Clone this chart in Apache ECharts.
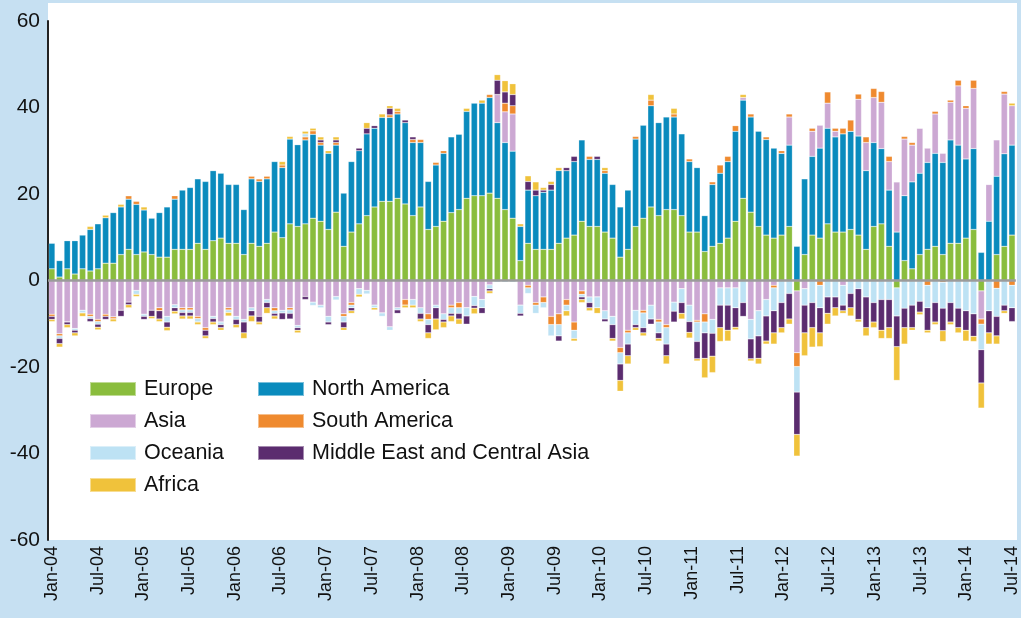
<!DOCTYPE html>
<html>
<head>
<meta charset="utf-8">
<script src="https://cdn.jsdelivr.net/npm/echarts@6/dist/echarts.min.js"></script>
<style>
  html, body { margin: 0; padding: 0; background: #c6e0f2; }
  #main { width: 1021px; height: 618px; }
</style>
</head>
<body>
<div id="main"></div>
<script>
// month names for the axis, Jan-04 .. Jul-14
var monthNames = ['Jan','Feb','Mar','Apr','May','Jun','Jul','Aug','Sep','Oct','Nov','Dec']
var axisMonths = []
for (var y = 4; y <= 14; y++) {
  for (var m = 0; m < 12; m++) {
    if (y == 14 && m > 6) break
    axisMonths.push(monthNames[m] + '-' + (y < 10 ? '0' + y : y))
  }
}
var dataMonths = axisMonths.slice(0, 126)

var europe = [2.7,0.8,2.7,1.5,2.7,2.2,2.7,4.0,4.0,6.0,
  7.2,6.0,6.6,6.0,5.4,5.4,7.2,7.2,7.2,8.6,
  7.2,9.2,9.8,8.6,8.6,6.0,8.6,7.9,8.6,11.2,
  9.9,13.1,12.5,13.1,14.4,13.7,11.8,15.8,7.9,11.2,
  13.1,15.0,17.0,18.3,18.3,19.0,17.7,15.0,17.0,11.8,
  12.5,13.7,15.7,16.4,19.0,19.6,19.6,20.2,19.0,16.4,
  14.4,4.6,8.6,7.2,7.2,7.2,8.6,9.8,10.5,13.7,
  12.5,12.5,11.2,9.8,5.4,7.2,12.5,14.4,17.0,15.0,
  16.4,16.4,15.0,11.2,11.2,6.7,7.9,8.6,9.8,13.7,
  19.0,15.8,12.5,10.5,9.8,10.5,12.5,-2.4,6.0,10.5,
  9.8,13.1,11.2,11.2,11.8,10.5,7.2,12.5,13.1,7.9,
  -1.7,4.6,2.7,6.0,7.2,7.9,6.0,8.6,8.6,9.8,
  11.8,-2.4,0,6.0,7.9,10.5]

var northAmerica = [5.9,3.8,6.5,7.7,7.8,9.6,10.4,10.5,11.7,11.0,
  11.6,11.6,9.7,8.4,10.3,11.6,11.6,13.7,14.3,14.9,
  15.7,16.2,15.0,13.6,13.6,10.4,14.9,15.0,14.9,16.3,
  16.2,19.6,18.9,19.4,19.4,17.6,17.6,15.5,12.3,16.3,
  16.9,18.9,18.2,19.4,19.4,19.5,18.8,16.9,14.9,11.1,
  14.2,15.7,17.5,17.4,20.1,21.4,21.4,22.1,17.5,15.5,
  15.5,7.9,12.3,12.4,13.2,13.7,16.8,15.6,17.0,18.8,
  15.5,15.5,13.6,12.4,11.6,13.7,20.2,21.5,23.4,21.5,
  21.4,21.4,18.9,16.3,14.9,8.3,14.3,16.2,17.7,20.8,
  22.7,22.0,22.0,22.1,20.8,18.9,18.8,7.9,17.5,18.2,
  20.8,22.1,22.0,22.7,22.7,22.9,18.2,19.4,17.4,13.0,
  11.2,15.0,20.1,18.8,20.1,21.5,21.3,23.9,22.7,18.3,
  18.7,6.5,13.7,18.1,21.4,20.8]

var asia = [-7.8,-12.3,-9.6,-11.1,-6.9,-7.8,-9.0,-7.8,-8.4,-6.9,
  -5.0,-2.3,-7.8,-6.9,-6.3,-8.3,-5.6,-6.3,-6.3,-8.3,
  -10.9,-8.3,-9.6,-6.3,-8.3,-9.0,-6.3,-8.3,-4.4,-6.3,
  -6.9,-6.3,-10.4,-3.7,-5.0,-5.7,-8.3,-3.7,-7.7,-5.1,
  -1.9,-2.3,-5.7,-7.5,-10.7,-6.3,-4.4,-4.4,-6.3,-7.7,
  -5.7,-7.7,-5.7,-5.1,-6.3,-3.7,-4.4,-1.0,6.5,7.1,
  8.6,-5.7,-1.1,-5.1,-3.8,-8.3,-7.7,-4.4,-9.6,-2.4,
  -3.8,-3.8,-7.0,-8.3,-15.5,-11.5,-6.9,-6.9,-5.7,-9.0,
  -10.2,-5.0,-1.9,-5.7,-9.2,-7.7,-9.0,-1.7,-1.7,-1.7,
  0.6,-9.0,-7.0,-4.4,-1.1,0,6.5,-14.3,-1.9,5.8,
  5.3,5.8,1.3,-1.1,0,8.5,6.5,10.4,10.7,6.6,
  11.6,13.1,8.5,10.4,3.3,9.1,2.1,8.7,13.7,11.7,
  13.9,-6.5,8.5,8.4,13.8,9.1]

var southAmerica = [-0.5,-0.5,0,0,0,-0.5,-0.5,-0.5,-0.5,0,
  0.8,0.7,0,0,-0.7,0,0.8,-0.5,-0.5,-0.5,
  -0.6,0,0,-0.5,0,0,0.6,0.6,0.6,-0.7,
  0.6,-0.5,0,0.7,0.8,0.6,0,0.6,-0.6,-0.6,
  0,0,0,0,0.6,0.6,-1.3,0.7,0.7,-1.3,
  0.6,0.6,-0.6,-1.2,0,0,0,0.7,0,2.0,
  1.9,0,-0.6,-0.6,-1.3,-1.9,-2.5,-1.3,-1.9,-0.8,
  0.7,0,0.6,0,-1.2,-0.6,0.6,-0.6,1.3,-0.6,
  -0.7,0.7,0,0.6,-0.4,-1.9,0.6,1.9,1.2,1.3,
  0,0.7,0,0.6,-0.6,0.6,0.7,-3.2,0,0.7,
  -1.1,2.6,0.7,1.3,2.6,1.2,1.3,2.1,2.5,1.2,
  0,0.6,0.6,0,-1.1,0.6,-0.4,0.5,1.3,0.6,
  1.9,-1.2,0,-1.8,0.6,-1.1]

var oceania = [0,-0.6,0,-0.4,-0.6,-0.5,-0.6,0,0,0,
  0,-0.9,-0.5,0,0,-1.3,-0.7,-0.6,-0.6,-0.8,
  0,-0.5,-0.6,-0.6,-0.7,-0.6,-0.7,0,-0.7,-0.6,
  -0.6,-0.8,-0.5,0.7,-0.8,-0.6,-1.3,-0.8,-1.3,-0.6,
  -1.3,-0.8,-0.6,-0.8,-0.8,-0.5,0,-1.3,-1.3,-1.2,
  -0.6,-1.3,-1.3,-1.3,-1.9,-2.1,-1.9,-0.9,-0.4,-0.4,
  -0.4,-1.9,-1.3,-1.9,-1.2,-2.6,-2.6,-1.3,-1.9,-0.6,
  -1.3,-2.5,-1.9,-1.9,-2.6,-2.6,-3.3,-3.4,-3.2,-2.5,
  -3.8,-2.1,-3.2,-3.8,-4.5,-2.5,-3.2,-4.0,-4.0,-4.6,
  -5.1,-4.5,-5.8,-3.8,-5.3,-5.1,-3.0,-5.9,-3.8,-5.1,
  -5.2,-3.8,-3.8,-4.6,-3.0,-1.9,-3.8,-5.1,-4.4,-4.4,
  -6.5,-6.4,-5.7,-4.8,-5.2,-5.1,-6.0,-5.1,-6.4,-7.0,
  -7.7,-5.9,-7.0,-6.5,-5.7,-5.2]

var middleEast = [-0.7,-1.2,-0.6,-0.6,0,-0.7,-0.7,-0.7,0,-1.4,
  -0.6,0,-0.7,-1.4,-1.9,-1.2,-0.8,-0.8,-0.8,0,
  -1.3,-0.8,-0.7,0,-1.2,-2.5,-1.2,-1.3,-1.2,-0.6,
  -1.5,-1.3,-0.6,-0.7,0,0.6,-0.6,0.6,-1.3,-0.7,
  0.6,1.3,0.6,0,1.5,-0.8,0.6,0.6,-1.3,-1.9,
  -2.6,-0.6,-0.6,-1.3,-1.9,-0.6,-1.3,-0.5,3.3,2.6,
  2.6,-0.6,2.0,1.3,0.5,1.3,-1.2,0.7,1.2,-0.6,
  -1.2,0.7,-0.6,-3.2,-3.8,-2.7,-0.7,-1.2,-1.2,-1.3,
  -2.7,-2.5,-2.5,-2.5,-4.0,-5.9,-5.3,-5.2,-5.8,-4.5,
  -3.2,-4.6,-5.2,-5.8,-5.1,-5.8,-5.9,-9.8,-6.4,-5.8,
  -5.8,-3.8,-2.5,-1.3,-3.3,-7.1,-7.1,-4.5,-7.1,-6.5,
  -7.1,-4.5,-5.2,-2.5,-5.2,-4.5,-5.2,-4.5,-4.5,-4.5,
  -5.2,-7.7,-5.1,-4.5,-1.3,-3.2]

var africa = [-0.5,-0.8,-0.7,-0.7,-0.8,0.7,-0.6,0.6,-0.6,0.6,
  -0.7,-0.5,0.7,-0.5,-0.6,-0.8,-0.6,-0.7,-0.7,-0.6,
  -0.6,-0.6,-0.6,-0.8,-0.7,-1.3,-1.3,-0.6,-1.3,-0.7,
  0.8,0.6,-0.6,0.6,0.6,0.7,0.6,0.7,-0.6,-0.6,
  -0.6,1.3,-0.5,0.8,0.6,0.7,-0.6,-0.6,-0.6,-1.3,
  -2.5,-1.3,-1.3,-1.2,0.7,-1.3,0.7,-0.6,1.3,2.6,
  2.5,0.6,1.3,1.9,0.6,0.7,0.7,-1.2,-0.6,-0.7,
  -0.7,-1.3,0.7,-0.6,-2.5,-1.9,-0.6,-0.7,1.3,-0.6,
  -1.9,1.3,-1.3,-1.3,-0.5,-4.5,-3.8,-3.2,-2.5,-0.6,
  0.7,-0.5,-1.3,-0.7,-2.6,-1.2,-1.2,-5.0,-5.3,-4.5,
  -3.2,-2.5,-1.9,-0.6,-1.9,-0.6,-1.9,-1.3,-1.9,-2.5,
  -7.8,-3.8,-0.6,-0.6,-0.6,-0.6,-2.5,-0.6,-1.2,-2.5,
  -1.2,-5.8,-2.6,-1.9,-0.6,0.6]

var regions = [
  { name: 'Europe', data: europe, color: '#8abd3d' },
  { name: 'North America', data: northAmerica, color: '#0a8bbd' },
  { name: 'Asia', data: asia, color: '#cca8d3' },
  { name: 'South America', data: southAmerica, color: '#ef8a2f' },
  { name: 'Oceania', data: oceania, color: '#bde2f4' },
  { name: 'Middle East and Central Asia', data: middleEast, color: '#5b2c6f' },
  { name: 'Africa', data: africa, color: '#f0c23b' }
]

var font = 'Liberation Sans, Arial, sans-serif'

var series = []
for (var i = 0; i < regions.length; i++) {
  var s = {
    name: regions[i].name,
    type: 'bar',
    stack: 'total',
    barWidth: '82%',
    xAxisIndex: 0,
    data: regions[i].data,
    itemStyle: { color: regions[i].color, borderColor: 'rgba(255,255,255,0.45)', borderWidth: 0.5 }
  }
  if (i == regions.length - 1) {
    s.markLine = {
      silent: true,
      symbol: 'none',
      label: { show: false },
      lineStyle: { color: '#9b9b9b', width: 2.5, type: 'solid' },
      data: [{ yAxis: 0 }]
    }
  }
  series.push(s)
}

var legendText = { fontSize: 21.5, color: '#111', fontFamily: font, lineHeight: 22, padding: [0, 0, 0, 3] }

var chart = echarts.init(document.getElementById('main'))
chart.setOption({
  animation: false,
  backgroundColor: '#c6e0f2',
  graphic: [{
    type: 'rect', left: 48, top: 3, z: 0, silent: true,
    shape: { width: 969, height: 537 },
    style: { fill: '#ffffff' }
  }],
  grid: { left: 48, right: 4, top: 21, bottom: 78 },
  legend: [{
    data: ['Europe', 'Asia', 'Oceania', 'Africa'],
    orient: 'vertical', left: 84, top: 373, icon: 'rect',
    itemWidth: 46, itemHeight: 14, itemGap: 10,
    textStyle: legendText
  }, {
    data: ['North America', 'South America', 'Middle East and Central Asia'],
    orient: 'vertical', left: 252, top: 373, icon: 'rect',
    itemWidth: 46, itemHeight: 14, itemGap: 10,
    textStyle: legendText
  }],
  xAxis: [{
    type: 'category',
    data: dataMonths,
    axisLine: { show: false, onZero: false },
    axisTick: { show: false },
    axisLabel: { show: false }
  }, {
    type: 'category',
    data: axisMonths,
    position: 'bottom',
    axisLine: { show: false, onZero: false },
    axisTick: { show: false },
    axisLabel: { interval: 5, rotate: 90, fontSize: 18, color: '#111', fontFamily: font, margin: 6 }
  }],
  yAxis: {
    type: 'value',
    min: -60, max: 60, interval: 20,
    axisLine: { show: true, lineStyle: { color: '#222', width: 2 } },
    axisTick: { show: false },
    splitLine: { show: false },
    axisLabel: { fontSize: 21, color: '#111', fontFamily: font, margin: 8 }
  },
  series: series
})
</script>
</body>
</html>
